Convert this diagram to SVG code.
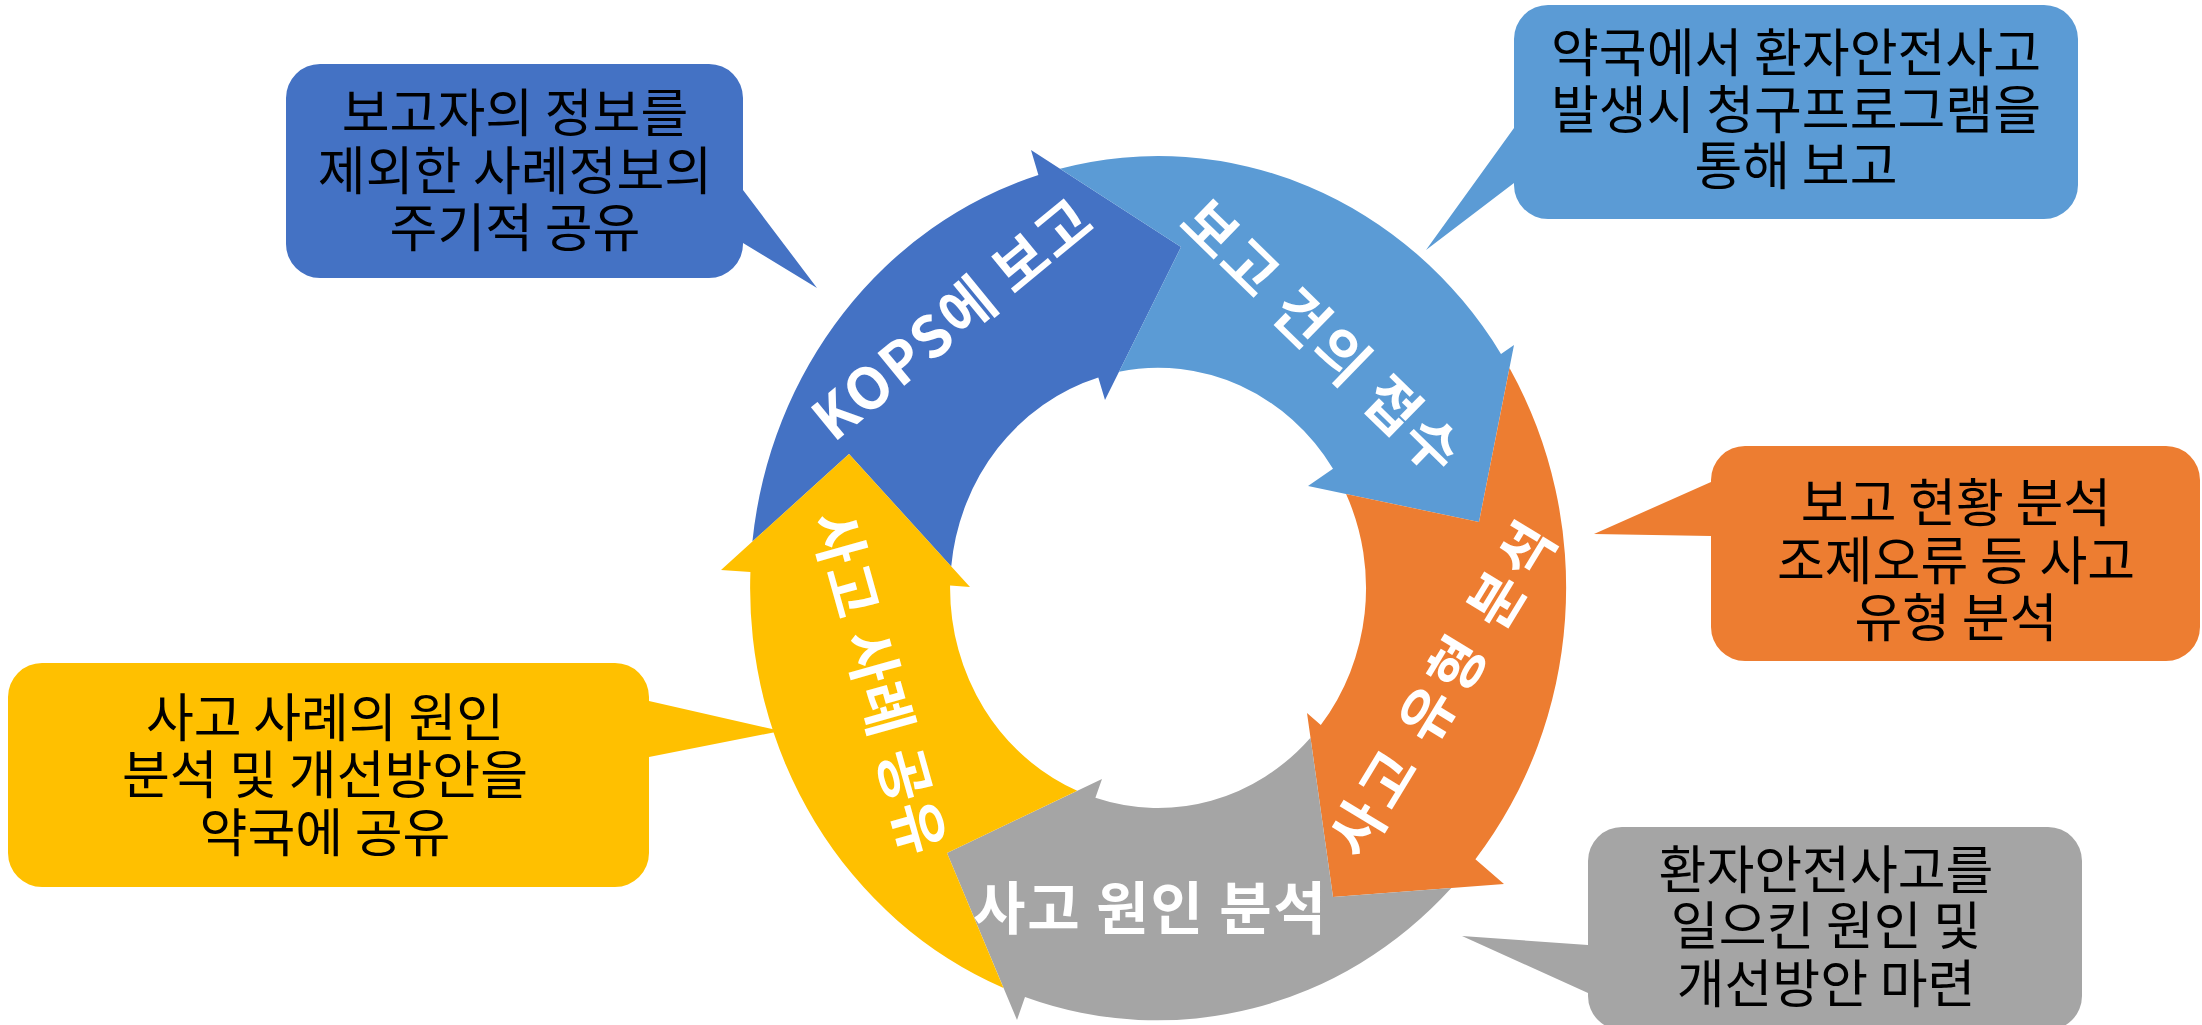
<svg xmlns="http://www.w3.org/2000/svg" width="2202" height="1025" viewBox="0 0 2202 1025">
<style>
  .dblue{fill:#4472C4}
  .lblue{fill:#5B9BD5}
  .orange{fill:#ED7D31}
  .gray{fill:#A5A5A5}
  .yellow{fill:#FFC000}
  .lbl{font-family:"Noto Sans CJK KR","Noto Sans",sans-serif;font-weight:700;font-size:57px;fill:#FFFFFF}
  .ct{font-family:"Noto Sans CJK KR","Noto Sans",sans-serif;font-weight:400;font-size:52px;fill:#000000;text-anchor:middle}
</style>
<rect x="0" y="0" width="2202" height="1025" fill="#FFFFFF"/>

<!-- cycle arrows -->
<g id="arrow-kops">
  <path class="dblue" d="M 752.4 541.6 A 408 432 0 0 1 1038.4 175 L 1031 150 L 1181 247 L 1105 400 L 1098.3 377.5 A 208 220 0 0 0 951.2 566.4 L 849 454 Z"/>
  <text class="lbl" transform="translate(951.9,319.2) rotate(-39.4)" x="0" y="21" text-anchor="middle" textLength="340" lengthAdjust="spacing">KOPS에 보고</text>
</g>
<g id="arrow-receive">
  <path class="lblue" d="M 1060 168.7 A 408 432 0 0 1 1501 353.9 L 1514 345 L 1479 522 L 1308 486 L 1333 468.8 A 208 220 0 0 0 1119 371.7 L 1181 247 Z"/>
  <text class="lbl" transform="translate(1321.3,336.3) rotate(44.2)" x="0" y="21" text-anchor="middle" textLength="362" lengthAdjust="spacing">보고 건의 접수</text>
</g>
<g id="arrow-type">
  <path class="orange" d="M 1509.5 368 A 408 432 0 0 1 1475.4 859.2 L 1504 884 L 1333 897 L 1307 713 L 1320.8 725 A 208 220 0 0 0 1346.1 494 L 1479 522 Z"/>
  <text class="lbl" transform="translate(1441.9,689.3) rotate(-58.7)" x="0" y="21" text-anchor="middle" textLength="378" lengthAdjust="spacing">사고 유형 분석</text>
</g>
<g id="arrow-cause">
  <path class="gray" d="M 1451.3 888 A 408 432 0 0 1 1025 997 L 1017 1020 L 947 853 L 1102 779 L 1095.4 797.8 A 208 220 0 0 0 1310.5 737.7 L 1333 897 Z"/>
  <text class="lbl" x="1149.5" y="929" text-anchor="middle" textLength="353" lengthAdjust="spacing">사고 원인 분석</text>
</g>
<g id="arrow-share">
  <path class="yellow" d="M 1003.5 988 A 408 432 0 0 1 750.4 572 L 721 570 L 849 454 L 970 587 L 950.1 585.6 A 208 220 0 0 0 1077.2 790.8 L 947 853 Z"/>
  <text class="lbl" transform="translate(878.5,682.4) rotate(74.3)" x="0" y="21" text-anchor="middle" textLength="353" lengthAdjust="spacing">사고 사례 공유</text>
</g>

<!-- callouts -->
<g id="callout-share-info">
  <path class="dblue" d="M 320 64 H 709 A 34 34 0 0 1 743 98 V 190 L 817 288 L 743 243 V 244 A 34 34 0 0 1 709 278 H 320 A 34 34 0 0 1 286 244 V 98 A 34 34 0 0 1 320 64 Z"/>
  <text class="ct" x="515" y="132">보고자의 정보를</text>
  <text class="ct" x="515" y="190">제외한 사례정보의</text>
  <text class="ct" x="515" y="247">주기적 공유</text>
</g>
<g id="callout-report">
  <path class="lblue" d="M 1548 5 H 2044 A 34 34 0 0 1 2078 39 V 185 A 34 34 0 0 1 2044 219 H 1548 A 34 34 0 0 1 1514 185 V 183 L 1426 250 L 1514 128 V 39 A 34 34 0 0 1 1548 5 Z"/>
  <text class="ct" x="1796" y="72">약국에서 환자안전사고</text>
  <text class="ct" x="1796" y="129">발생시 청구프로그램을</text>
  <text class="ct" x="1796" y="185">통해 보고</text>
</g>
<g id="callout-analysis">
  <path class="orange" d="M 1745 446 H 2166 A 34 34 0 0 1 2200 480 V 627 A 34 34 0 0 1 2166 661 H 1745 A 34 34 0 0 1 1711 627 V 536 L 1594 534 L 1711 482 V 480 A 34 34 0 0 1 1745 446 Z"/>
  <text class="ct" x="1956" y="522">보고 현황 분석</text>
  <text class="ct" x="1956" y="580">조제오류 등 사고</text>
  <text class="ct" x="1956" y="637">유형 분석</text>
</g>
<g id="callout-cause">
  <path class="gray" d="M 1622 827 H 2048 A 34 34 0 0 1 2082 861 V 996 A 34 34 0 0 1 2048 1030 H 1622 A 34 34 0 0 1 1588 996 V 993 L 1462 936 L 1588 945 V 861 A 34 34 0 0 1 1622 827 Z"/>
  <text class="ct" x="1826" y="889">환자안전사고를</text>
  <text class="ct" x="1826" y="945">일으킨 원인 및</text>
  <text class="ct" x="1826" y="1003">개선방안 마련</text>
</g>
<g id="callout-share-case">
  <path class="yellow" d="M 42 663 H 615 A 34 34 0 0 1 649 697 V 701 L 781 731 L 649 757 V 853 A 34 34 0 0 1 615 887 H 42 A 34 34 0 0 1 8 853 V 697 A 34 34 0 0 1 42 663 Z"/>
  <text class="ct" x="325" y="737">사고 사례의 원인</text>
  <text class="ct" x="325" y="794">분석 및 개선방안을</text>
  <text class="ct" x="325" y="852">약국에 공유</text>
</g>

<g id="connectors"></g>
</svg>
